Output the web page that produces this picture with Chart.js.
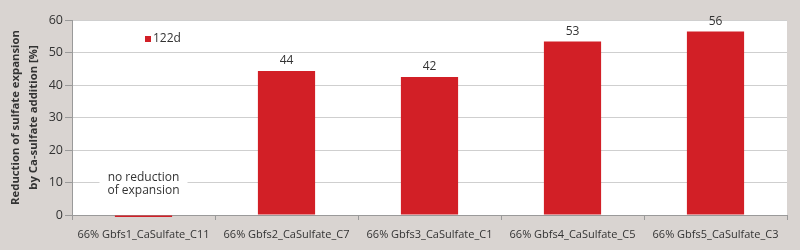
<!DOCTYPE html>
<html>
<head>
<meta charset="utf-8">
<script src="https://cdn.jsdelivr.net/npm/chart.js@4"></script>
<style>
    html, body { margin: 0; padding: 0; background: #d9d4d1; }
    #wrap { width: 800px; height: 250px; }
</style>
</head>
<body>
<div id="wrap"><canvas id="chart" width="800" height="250"></canvas></div>
<script>
const categories = ["66% Gbfs1_CaSulfate_C11", "66% Gbfs2_CaSulfate_C7", "66% Gbfs3_CaSulfate_C1", "66% Gbfs4_CaSulfate_C5", "66% Gbfs5_CaSulfate_C3"];
const values122d = [-0.6, 44.3, 42.5, 53.4, 56.5];
const valueLabels = ["", "44", "42", "53", "56"];
const seriesName = "122d";
const noteLines = ["no reduction", "of expansion"];
const yTitle = ["Reduction of sulfate expansion", "by Ca-sulfate addition [%]"];

const red = "#d21f26";
const fontFamily = "'Open Sans', 'Noto Sans', sans-serif";

const chartBg = {
    id: "chartBg",
    beforeDraw(chart) {
        const { ctx, chartArea: a } = chart;
        ctx.save();
        ctx.fillStyle = "#ffffff";
        ctx.fillRect(a.left, a.top, a.right - a.left, a.bottom - a.top);
        ctx.restore();
    }
};

const extras = {
    id: "extras",
    afterDatasetsDraw(chart) {
        const { ctx } = chart;
        const meta = chart.getDatasetMeta(0);
        const y = chart.scales.y;
        ctx.save();
        ctx.font = "12px " + fontFamily;
        ctx.fillStyle = "#333333";
        ctx.textAlign = "center";
        ctx.textBaseline = "bottom";
        meta.data.forEach((bar, i) => {
            if (valueLabels[i]) ctx.fillText(valueLabels[i], bar.x, bar.y - 4);
        });

        // note box for the first category
        const cx = meta.data[0].x;
        const cy = y.getPixelForValue(10);
        ctx.fillStyle = "#ffffff";
        ctx.fillRect(cx - 44, cy - 14, 88, 28);
        ctx.fillStyle = "#333333";
        ctx.textBaseline = "middle";
        ctx.fillText(noteLines[0], cx, cy - 5);
        ctx.fillText(noteLines[1], cx, cy + 8);

        // legend inside the plot
        ctx.fillStyle = red;
        ctx.fillRect(145, 36, 6, 6);
        ctx.fillStyle = "#333333";
        ctx.textAlign = "left";
        ctx.fillText(seriesName, 153, 39);
        ctx.restore();
    }
};

new Chart(document.getElementById("chart"), {
    type: "bar",
    data: {
        labels: categories,
        datasets: [{
            label: seriesName,
            data: values122d,
            backgroundColor: red,
            barPercentage: 0.8,
            categoryPercentage: 0.5,
            clip: false
        }]
    },
    options: {
        responsive: false,
        animation: false,
        layout: { padding: { left: 7, right: 13, top: 20, bottom: 0 } },
        plugins: {
            legend: { display: false },
            tooltip: { enabled: false }
        },
        scales: {
            x: {
                grid: { display: true, drawOnChartArea: false, color: "#9a9a9a", tickLength: 5, offset: true },
                border: { color: "#9a9a9a" },
                ticks: { color: "#333333", font: { family: fontFamily, size: 11 }, maxRotation: 0, padding: 8 },
                afterFit: scale => { scale.height = 35; }
            },
            y: {
                min: 0,
                max: 60,
                ticks: { stepSize: 10, color: "#333333", font: { family: fontFamily, size: 12.5 }, padding: 2 },
                grid: { color: "#cfcfcf", tickLength: 7, tickColor: "#9a9a9a" },
                border: { color: "#9a9a9a" },
                title: {
                    display: true,
                    text: yTitle,
                    color: "#333333",
                    font: { family: fontFamily, size: 11.3, weight: "bold", lineHeight: 1.6 },
                    padding: { top: 0, bottom: 0 }
                },
                afterFit: scale => { scale.width = 65; }
            }
        }
    },
    plugins: [chartBg, extras]
});
</script>
</body>
</html>
